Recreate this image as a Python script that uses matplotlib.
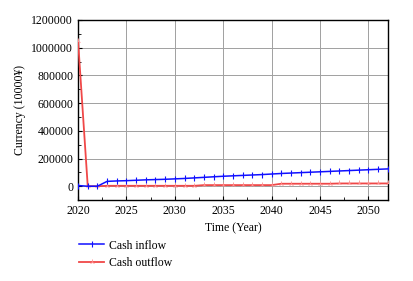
import matplotlib.pyplot as plt
from matplotlib.ticker import MultipleLocator, FormatStrFormatter

plt.rcParams['font.family'] = ['Liberation Serif', 'DejaVu Serif']

years = list(range(2020, 2053))
cash_inflow = [5000, 0, 0, 35000, 38000, 40000, 43000, 46000, 48000, 50000,
               53000, 56000, 60000, 64000, 68000, 72000, 75000, 78000, 81000,
               84000, 88000, 92000, 95000, 98000, 101000, 104000, 107000,
               110000, 113000, 116000, 119000, 122000, 125000]
cash_outflow = [1050000, 0, 0, 3000, 3000, 3000, 3000, 3000, 3000, 3000,
                3000, 3000, 3000, 8000, 8000, 8000, 8000, 8000, 8000,
                8000, 8000, 18000, 18000, 18000, 18000, 18000, 18000,
                20000, 20000, 20000, 20000, 20000, 20000]

fig = plt.figure(figsize=(4.13, 2.81), dpi=100)
ax = fig.add_axes([0.189, 0.288, 0.75, 0.641])

ax.plot(years, cash_inflow, color='#1010ff', lw=1.1, marker='|', ms=5,
        mew=0.8, label='Cash inflow', zorder=4)
ax.plot(years, cash_outflow, color='#f04848', lw=1.3, marker='2', ms=4,
        mew=0.6, mec='#ff9090', label='Cash outflow', zorder=3)

ax.set_xlim(2020, 2052)
ax.set_ylim(-100000, 1200000)
ax.xaxis.set_major_locator(MultipleLocator(5))
ax.xaxis.set_minor_locator(MultipleLocator(2.5))
ax.yaxis.set_major_locator(MultipleLocator(200000))
ax.yaxis.set_minor_locator(MultipleLocator(100000))
ax.yaxis.set_major_formatter(FormatStrFormatter('%d'))
ax.xaxis.set_major_formatter(FormatStrFormatter('%d'))
ax.grid(True, which='major', color='#a0a0a0', lw=0.7)
ax.tick_params(which='both', direction='in', labelsize=8.5)
ax.tick_params(which='major', length=3)
ax.tick_params(which='minor', length=2)
for s in ax.spines.values():
    s.set_linewidth(1.0)

ax.set_xlabel('Time (Year)', fontsize=8.5, labelpad=4)
ax.set_ylabel('Currency (10000¥)', fontsize=8.5, labelpad=4)

ax.legend(loc='upper left', bbox_to_anchor=(-0.03, -0.16), frameon=False,
          fontsize=8.5, handlelength=2.1, handletextpad=0.4,
          labelspacing=0.45)

fig.savefig('out.png', dpi=100)
